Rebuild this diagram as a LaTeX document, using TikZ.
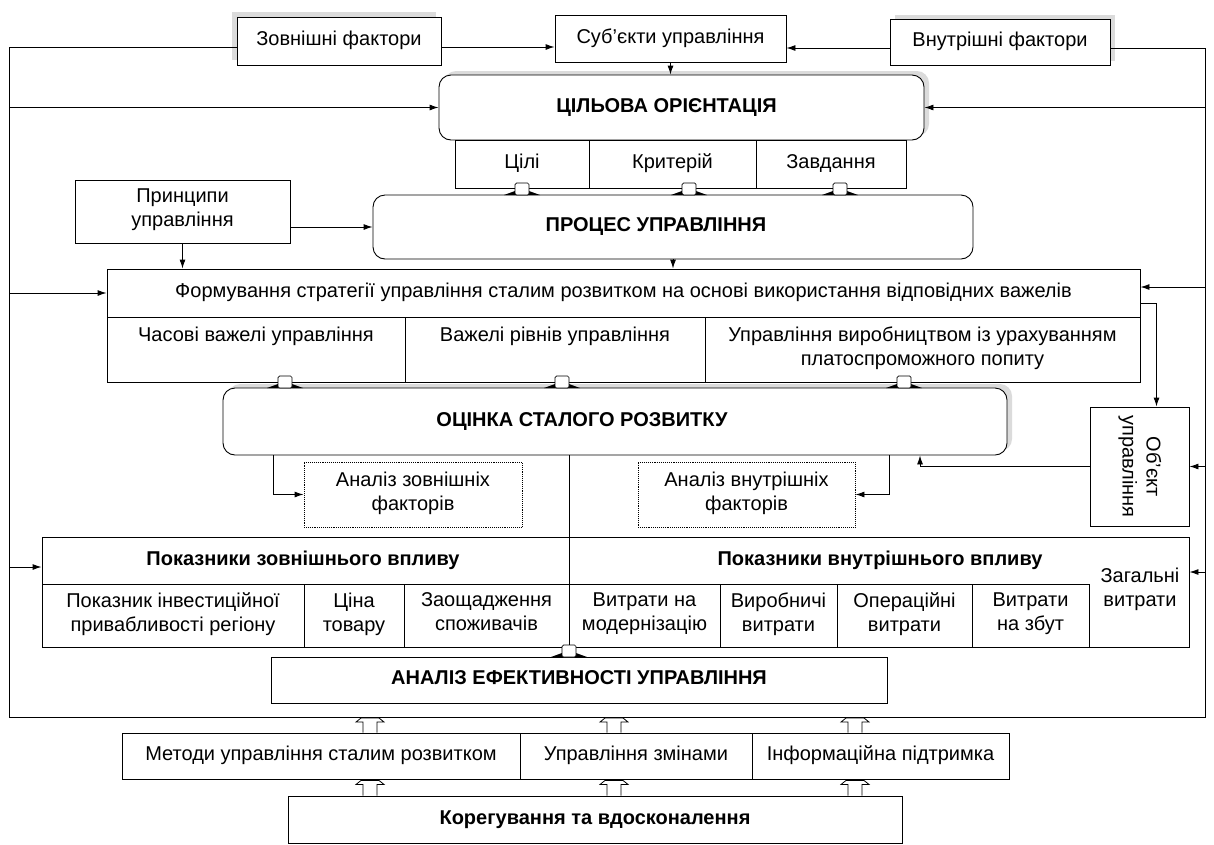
\documentclass[tikz,border=0pt]{standalone}
\usepackage{fontspec}
\setmainfont{Liberation Sans}
\usetikzlibrary{calc, arrows.meta, shadows}

% ô vuông nối giữa hai khối: tên, x, y của cạnh trên khối dưới
\newcommand{\khoi}[3]{%
  \fill (#2-18,#3) -- (#2+18,#3) -- (#2+7,#3-4) -- (#2-7,#3-4) -- cycle;
  \node[tab] (#1) at (#2,#3-6) {};}
% mũi tên rỗng đi lên: điểm dưới, điểm trên
\newcommand{\mui}[2]{%
  \draw[fill=white, line width=0.8pt] ($(#1)+(-7,0)$) -- ($(#2)+(-7,5)$) -- ($(#2)+(-14,5)$)
    -- ($(#2)+(-9,1)$) -- ($(#2)+(9,1)$) -- ($(#2)+(14,5)$) -- ($(#2)+(7,5)$) -- ($(#1)+(7,0)$);}

\begin{document}
\begin{tikzpicture}[x=1pt, y=-1pt, >={Latex[length=9pt,width=6pt]}, line width=0.9pt,
    font=\fontsize{20}{24}\selectfont,
    box/.style={draw, fill=white, align=center, inner sep=2pt,
        execute at begin node=\strut, execute at end node=\strut},
    rbox/.style={box, rounded corners=12pt},
    dbox/.style={box, densely dotted},
    tab/.style={draw, fill=white, minimum width=14pt, minimum height=12pt, inner sep=0pt,
        rounded corners=1.5pt, line width=0.7pt, execute at begin node=, execute at end node=},
    bongtrai/.style={general shadow={fill=gray!28, shadow xshift=-5pt, shadow yshift=5pt}},
    bongphai/.style={general shadow={fill=gray!28, shadow xshift=5pt, shadow yshift=4pt}}]
    \useasboundingbox (0,0) rectangle (1214,844);

    % 1. Hàng trên cùng
    \node[box, bongtrai, minimum width=204pt, minimum height=48pt] (ngoai) at (339,41) {Зовнішні фактори};
    \node[box, minimum width=231pt, minimum height=47pt] (chuthe) at (670.5,38.5) {Суб’єкти управління};
    \node[box, bongphai, minimum width=220pt, minimum height=46pt] (trong) at (1000,42) {Внутрішні фактори};

    % 2. Khối mục tiêu và ba ô con
    \node[rbox, bongphai, minimum width=485pt, minimum height=65pt] (muctieu) at (681.5,107.5) {\bfseries ЦІЛЬОВА ОРІЄНТАЦІЯ\kern30pt};
    \node[box, minimum width=134pt, minimum height=48pt] (cili) at (522,164) {Цілі};
    \node[box, minimum width=167pt, minimum height=48pt] (kryt) at (672.5,164) {Критерій};
    \node[box, minimum width=150pt, minimum height=48pt] (zavd) at (831,164) {Завдання};

    % 3. Nguyên tắc và quá trình
    \node[box, minimum width=215pt, minimum height=63pt] (pryntsypy) at (182.5,211.5) {Принципи\\управління};
    \node[rbox, minimum width=600pt, minimum height=64pt] (protses) at (673,227) {\bfseries ПРОЦЕС УПРАВЛІННЯ\kern34pt};
    \khoi{k1}{522}{195}
    \khoi{k2}{689}{195}
    \khoi{k3}{840}{195}

    % 4. Chiến lược và các đòn bẩy
    \node[box, minimum width=1033pt, minimum height=48pt] (formuv) at (623.5,293)
        {Формування стратегії управління сталим розвитком на основі використання відповідних важелів};
    \node[box, minimum width=298pt, minimum height=65pt] (chasovi) at (256,349.5) {Часові важелі управління\\~};
    \node[box, minimum width=300pt, minimum height=65pt] (rivni) at (555,349.5) {Важелі рівнів управління\\~};
    \node[box, minimum width=435pt, minimum height=65pt] (vyrob) at (922.5,349.5)
        {Управління виробництвом із урахуванням\\платоспроможного попиту};

    % 5. Đánh giá
    \node[rbox, bongphai, minimum width=784pt, minimum height=67pt] (otsinka) at (615,421.5) {\bfseries ОЦІНКА СТАЛОГО РОЗВИТКУ\kern66pt};
    \khoi{k4}{285}{388}
    \khoi{k5}{562}{388}
    \khoi{k6}{904}{388}
    \node[dbox, minimum width=218pt, minimum height=65pt] (azovn) at (413,494.5) {Аналіз зовнішніх\\факторів};
    \node[dbox, minimum width=217pt, minimum height=65pt] (avnutr) at (746.5,494.5) {Аналіз внутрішніх\\факторів};
    \node[draw, fill=white, inner sep=2pt, minimum width=99pt, minimum height=119pt] (obiekt) at (1139.5,466.5)
        {\rotatebox{-90}{\begin{tabular}{@{}c@{}}Об’єкт\\управління\end{tabular}}};

    % 6. Bảng chỉ tiêu
    \node[draw, minimum width=1147pt, minimum height=110pt] (pokaz) at (615.5,592) {};
    \node (zovnvpl) at (303,560) {\bfseries Показники зовнішнього впливу};
    \node (vnutrvpl) at (880,560) {\bfseries Показники внутрішнього впливу};
    \node[box, minimum width=262pt, minimum height=63pt] (c1) at (173,615.5) {Показник інвестиційної\\привабливості регіону};
    \node[box, minimum width=100pt, minimum height=63pt] (c2) at (354,615.5) {Ціна\\товару};
    \node[box, minimum width=165pt, minimum height=63pt] (c3) at (486.5,615.5) {Заощадження\\споживачів};
    \node[box, minimum width=151pt, minimum height=63pt] (c4) at (644.5,615.5) {Витрати на\\модернізацію};
    \node[box, minimum width=117pt, minimum height=63pt] (c5) at (778.5,615.5) {Виробничі\\витрати};
    \node[box, minimum width=135pt, minimum height=63pt] (c6) at (904.5,615.5) {Операційні\\витрати};
    \node[box, minimum width=117pt, minimum height=63pt] (c7) at (1030.5,615.5) {Витрати\\на збут};
    \node[align=center] (zahal) at (1140,589) {Загальні\\витрати};

    % 7. Phân tích hiệu quả
    \node[box, minimum width=616pt, minimum height=46pt] (analiz) at (579,680) {\bfseries АНАЛІЗ ЕФЕКТИВНОСТІ УПРАВЛІННЯ};
    \khoi{k7}{569}{657}
    \draw (k7.north |- otsinka.south) -- (k7.north);

    % 8. Hàng dưới cùng
    \node[box, minimum width=398pt, minimum height=46pt] (metody) at (321,756) {Методи управління сталим розвитком};
    \node[box, minimum width=232pt, minimum height=46pt] (zminy) at (636,756) {Управління змінами};
    \node[box, minimum width=257pt, minimum height=46pt] (info) at (880.5,756) {Інформаційна підтримка};
    \node[box, minimum width=614pt, minimum height=47pt] (koreg) at (595,819.5) {\bfseries Корегування та вдосконалення};

    % 9. Vòng ngoài và các mũi tên
    \coordinate (tl) at (9,47);
    \coordinate (bl) at (9,717);
    \coordinate (br) at (1205,717);
    \coordinate (tr) at (1205,48);
    \draw (ngoai.west |- tl) -- (tl) -- (bl) -- (br) -- (tr) -- (trong.east |- tr);
    \draw[->] (ngoai.east |- tl) -- (chuthe.west |- tl);
    \draw[->] (trong.west |- tr) -- (chuthe.east |- tr);
    \draw[->] (chuthe.south) -- (chuthe.south |- muctieu.north);
    \draw[->] (tl |- muctieu.west) -- (muctieu.west);
    \draw[->] (tr |- muctieu.east) -- (muctieu.east);
    \draw[->] (pryntsypy.east |- protses.west) -- (protses.west);
    \draw[->] (pryntsypy.south) -- (pryntsypy.south |- formuv.north);
    \draw[->] (protses.south) -- (protses.south |- formuv.north);
    \draw[->] (tl |- formuv.west) -- (formuv.west);
    \coordinate (fe) at ([yshift=6pt]formuv.east);
    \draw[->] (tr |- fe) -- (fe);
    \draw[->] ([yshift=-10pt]formuv.east) -| ([xshift=17pt]obiekt.north);
    \draw[->] ([xshift=-342pt]otsinka.south) |- (azovn.west);
    \draw[->] ([xshift=274pt]otsinka.south) |- (avnutr.east);
    \draw[->] (obiekt.west) -| ([xshift=305pt]otsinka.south);
    \draw[->] (tr |- obiekt.east) -- (obiekt.east);
    \coordinate (pw) at ([yshift=25pt]pokaz.west);
    \coordinate (pe) at ([yshift=20pt]pokaz.east);
    \draw[->] (tl |- pw) -- (pw);
    \draw[->] (tr |- pe) -- (pe);

    % 10. Mũi tên rỗng
    \foreach \x/\n in {370/metody, 614/zminy, 855/info} {
        \path (\n.north -| \x,0) coordinate (a) (bl -| \x,0) coordinate (b);
        \mui{a}{b}
        \path (koreg.north -| \x,0) coordinate (c) (\n.south -| \x,0) coordinate (d);
        \mui{c}{d}
    }
\end{tikzpicture}
\end{document}
